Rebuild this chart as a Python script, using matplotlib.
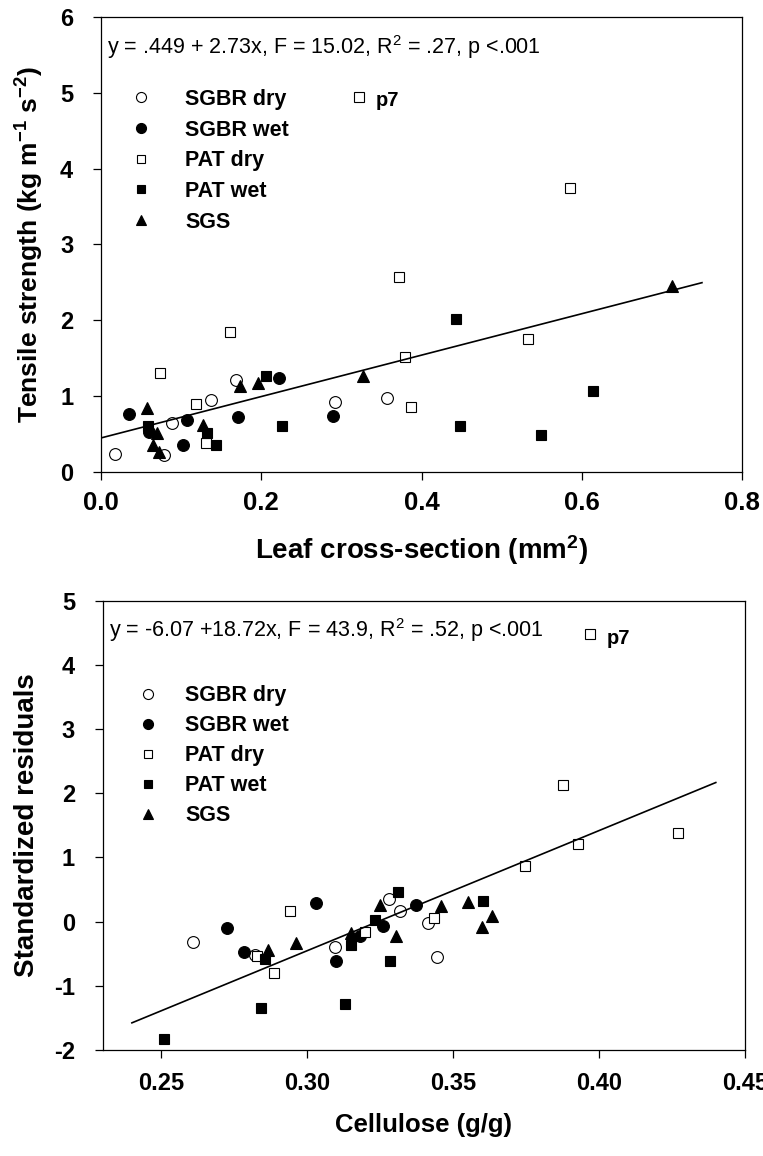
import numpy as np
import matplotlib
matplotlib.use("Agg")
import matplotlib.pyplot as plt

plt.rcParams['font.family'] = ['Liberation Sans', 'DejaVu Sans']
plt.rcParams['mathtext.default'] = 'regular'

# top panel: tensile strength vs leaf cross-section
t_sgbr_dry_x = [0.018, 0.078, 0.089, 0.137, 0.169, 0.292, 0.357]
t_sgbr_dry_y = [0.24, 0.22, 0.65, 0.95, 1.21, 0.92, 0.97]
t_sgbr_wet_x = [0.035, 0.060, 0.102, 0.107, 0.171, 0.222, 0.289]
t_sgbr_wet_y = [0.77, 0.53, 0.36, 0.69, 0.73, 1.24, 0.74]
t_pat_dry_x = [0.074, 0.119, 0.131, 0.161, 0.322, 0.372, 0.380, 0.387, 0.533, 0.585]
t_pat_dry_y = [1.30, 0.90, 0.38, 1.84, 4.95, 2.57, 1.52, 0.86, 1.75, 3.75]
t_pat_wet_x = [0.059, 0.132, 0.144, 0.206, 0.226, 0.443, 0.448, 0.549, 0.614]
t_pat_wet_y = [0.60, 0.52, 0.36, 1.26, 0.61, 2.02, 0.60, 0.49, 1.07]
t_sgs_x = [0.057, 0.065, 0.070, 0.072, 0.127, 0.174, 0.196, 0.327, 0.712]
t_sgs_y = [0.84, 0.36, 0.51, 0.27, 0.62, 1.13, 1.17, 1.26, 2.45]
t_fit = (0.449, 2.73)
t_fit_range = (0.0, 0.75)
t_p7 = (0.322, 4.95)

# bottom panel: standardized residuals vs cellulose
b_sgbr_dry_x = [0.2609, 0.282, 0.3097, 0.328, 0.332, 0.3413, 0.3446]
b_sgbr_dry_y = [-0.32, -0.52, -0.40, 0.36, 0.17, -0.02, -0.55]
b_sgbr_wet_x = [0.2725, 0.2784, 0.3032, 0.3098, 0.318, 0.326, 0.3373]
b_sgbr_wet_y = [-0.10, -0.47, 0.29, -0.61, -0.22, -0.07, 0.26]
b_pat_dry_x = [0.283, 0.2887, 0.294, 0.320, 0.3436, 0.3747, 0.3877, 0.3928, 0.397, 0.4271]
b_pat_dry_y = [-0.53, -0.80, 0.16, -0.16, 0.06, 0.86, 2.13, 1.21, 4.48, 1.38]
b_pat_wet_x = [0.2511, 0.2843, 0.2855, 0.3131, 0.315, 0.3232, 0.3284, 0.331, 0.3602]
b_pat_wet_y = [-1.83, -1.35, -0.58, -1.29, -0.36, 0.02, -0.61, 0.46, 0.32]
b_sgs_x = [0.2866, 0.2963, 0.3152, 0.3249, 0.3304, 0.3459, 0.3552, 0.360, 0.3632]
b_sgs_y = [-0.45, -0.34, -0.17, 0.26, -0.22, 0.25, 0.30, -0.09, 0.08]
b_fit = (-6.07, 18.72)
b_fit_range = (0.24, 0.44)
b_p7 = (0.397, 4.48)

labels = ['SGBR dry', 'SGBR wet', 'PAT dry', 'PAT wet', 'SGS']
styles = [dict(marker='o', mfc='white', mec='black', ms=8.5, mew=0.8),
          dict(marker='o', mfc='black', mec='black', ms=8.5, mew=0.8),
          dict(marker='s', mfc='white', mec='black', ms=7, mew=0.8),
          dict(marker='s', mfc='black', mec='black', ms=7, mew=0.8),
          dict(marker='^', mfc='black', mec='black', ms=8.5, mew=0.8)]


def panel(ax, xs, ys, fit, frange, eq, p7, legpos, textpad, lspace):
    for x, y, lab, st in zip(xs, ys, labels, styles):
        ax.plot(x, y, ls='none', label=lab, **st)
    fx = np.array(frange)
    ax.plot(fx, fit[0] + fit[1] * fx, color='black', lw=1.2)
    ax.text(0.01, 0.935, eq, transform=ax.transAxes, fontsize=15.5, va='center', ha='left')
    ax.annotate('p7', xy=p7, xytext=(12, -3), textcoords='offset points',
                fontsize=14.5, fontweight='bold', va='center', ha='left')
    ax.legend(loc='upper left', bbox_to_anchor=legpos, frameon=False,
              prop=dict(size=15.5, weight='bold'), handlelength=1.0,
              handletextpad=textpad, labelspacing=lspace, borderpad=0,
              borderaxespad=0, markerscale=0.85)
    for sp in ax.spines.values():
        sp.set_linewidth(0.9)
    ax.tick_params(direction='out', length=6, width=0.9)


fig = plt.figure(figsize=(7.63, 11.56), dpi=100)

ax1 = fig.add_axes([0.1324, 0.5917, 0.8401, 0.3936])
panel(ax1, [t_sgbr_dry_x, t_sgbr_wet_x, t_pat_dry_x, t_pat_wet_x, t_sgs_x],
      [t_sgbr_dry_y, t_sgbr_wet_y, t_pat_dry_y, t_pat_wet_y, t_sgs_y],
      t_fit, t_fit_range, 'y = .449 + 2.73x, F = 15.02, R$^2$ = .27, p <.001',
      t_p7, (0.046, 0.842), 1.55, 0.45)
ax1.set_xlim(0, 0.8)
ax1.set_ylim(0, 6)
ax1.set_xticks([0.0, 0.2, 0.4, 0.6, 0.8])
ax1.set_xticklabels(['0.0', '0.2', '0.4', '0.6', '0.8'], fontsize=18.5, fontweight='bold')
ax1.set_yticks([0, 1, 2, 3, 4, 5, 6])
ax1.set_yticklabels(['0', '1', '2', '3', '4', '5', '6'], fontsize=17, fontweight='bold')
ax1.tick_params(axis='x', pad=8)
ax1.tick_params(axis='y', pad=14)
ax1.set_xlabel('Leaf cross-section (mm$^2$)', fontsize=20, fontweight='bold', labelpad=13)
ax1.set_ylabel('Tensile strength (kg m$^{-1}$ s$^{-2}$)', fontsize=19, fontweight='bold', labelpad=10)

ax2 = fig.add_axes([0.1346, 0.0917, 0.8418, 0.3887])
panel(ax2, [b_sgbr_dry_x, b_sgbr_wet_x, b_pat_dry_x, b_pat_wet_x, b_sgs_x],
      [b_sgbr_dry_y, b_sgbr_wet_y, b_pat_dry_y, b_pat_wet_y, b_sgs_y],
      b_fit, b_fit_range, 'y = -6.07 +18.72x, F = 43.9, R$^2$ = .52, p <.001',
      b_p7, (0.053, 0.812), 1.25, 0.42)
ax2.set_xlim(0.23, 0.45)
ax2.set_ylim(-2, 5)
ax2.set_xticks([0.25, 0.30, 0.35, 0.40, 0.45])
ax2.set_xticklabels(['0.25', '0.30', '0.35', '0.40', '0.45'], fontsize=17, fontweight='bold')
ax2.set_yticks([-2, -1, 0, 1, 2, 3, 4, 5])
ax2.set_yticklabels(['-2', '-1', '0', '1', '2', '3', '4', '5'], fontsize=17, fontweight='bold')
ax2.tick_params(axis='x', pad=10)
ax2.tick_params(axis='y', pad=14)
ax2.set_xlabel('Cellulose (g/g)', fontsize=18.5, fontweight='bold', labelpad=13)
ax2.set_ylabel('Standardized residuals', fontsize=20, fontweight='bold', labelpad=10)

fig.savefig('out.png', dpi=100)
